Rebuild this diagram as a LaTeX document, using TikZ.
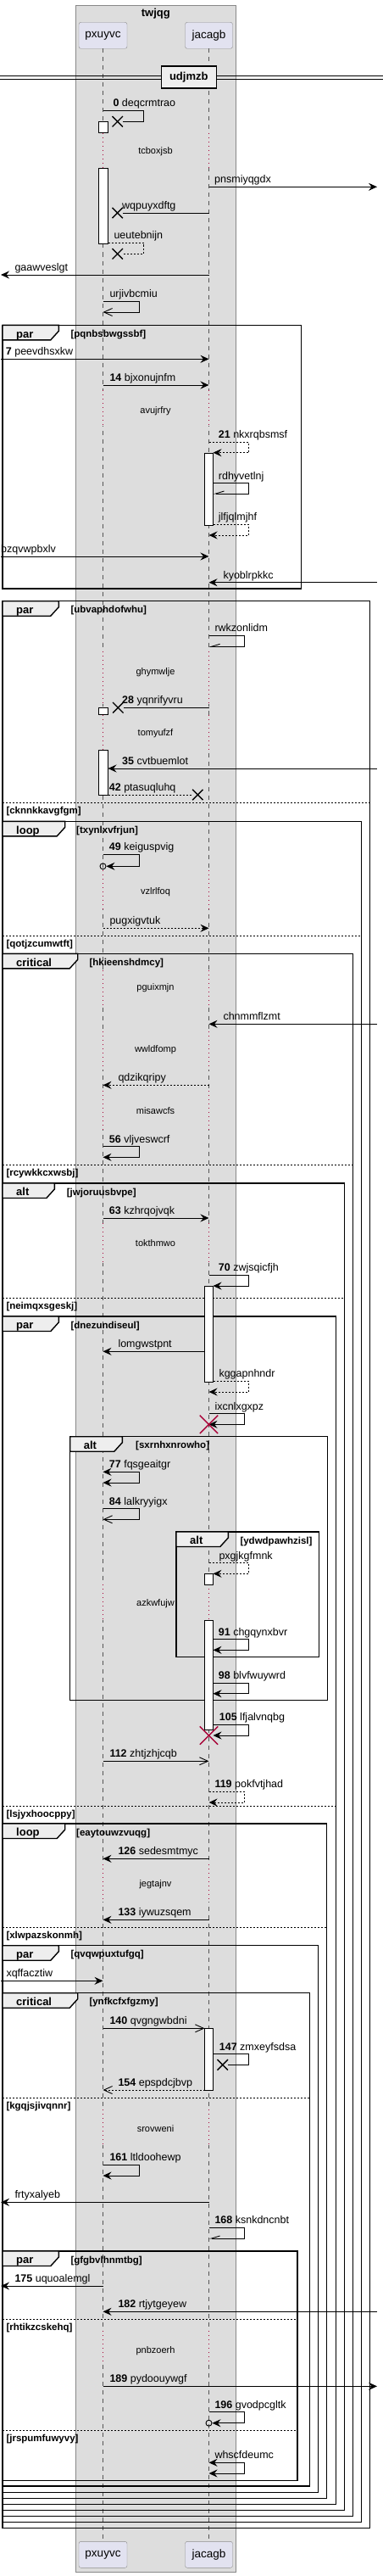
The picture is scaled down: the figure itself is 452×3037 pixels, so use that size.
\documentclass[tikz,border=0pt]{standalone}
\usepackage{fontspec}
\setmainfont{Liberation Sans}
\usepackage{xcolor}
\definecolor{ink}{HTML}{000000}
\definecolor{boxbg}{HTML}{DDDDDD}
\definecolor{boxfr}{HTML}{888888}
\definecolor{partbg}{HTML}{E2E2F0}
\definecolor{partfr}{HTML}{8C8C8C}
\definecolor{tabbg}{HTML}{EEEEEE}
\definecolor{delayred}{HTML}{A80036}
\definecolor{lifegrey}{HTML}{555555}
\usetikzlibrary{arrows.meta,shapes.misc}
\tikzset{>={Stealth[length=10pt,width=9pt,inset=3.5pt]},
  open/.style={-{Straight Barb[length=10pt,width=9pt]}},
  half/.style={-{Straight Barb[right,length=10pt,width=6pt]}},
  msg/.style={->,line width=0.9pt,ink},
  ret/.style={msg,dash pattern=on 2pt off 2pt},
  lbl/.style={font=\fontsize{12.5}{15}\selectfont,anchor=base west,inner sep=0pt},
  dly/.style={font=\fontsize{11}{13}\selectfont,inner sep=0pt},
  grd/.style={font=\fontsize{11.5}{13}\selectfont\bfseries,anchor=base west,inner sep=0pt},
  ftitle/.style={font=\fontsize{13}{15}\selectfont\bfseries,anchor=base west,inner sep=0pt},
  part/.style={draw=partfr,fill=partbg,rounded corners=2.5pt,minimum width=57pt,
    minimum height=31pt,font=\fontsize{13.5}{15}\selectfont,inner sep=0pt},
  life/.style={lifegrey,line width=0.6pt,dash pattern=on 5pt off 5pt},
  dots/.style={delayred,line width=0.8pt,dash pattern=on 1pt off 4pt},
  act/.style={draw=ink,fill=white,line width=0.8pt},
  frm/.style={draw=ink,line width=1.4pt},
  tabbox/.style={draw=ink,fill=tabbg,line width=1.4pt},
  divline/.style={ink,line width=0.7pt,dash pattern=on 2pt off 2pt},
  lostx/.style={draw=ink,cross out,minimum size=11pt,inner sep=0pt,line width=1.4pt},
  killx/.style={draw=delayred,cross out,minimum size=20pt,inner sep=0pt,line width=1.4pt},
  endo/.style={draw=ink,circle,minimum size=7pt,inner sep=0pt,line width=0.9pt}}

\begin{document}
\begin{tikzpicture}[x=1pt,y=-1pt]
  \useasboundingbox (0,0) rectangle (452,3037);
  \draw[draw=boxfr,fill=boxbg] (89.3,6) rectangle (278.3,3032);
  \node[ftitle,anchor=center] (grp) at (183.8,15.7) {twjqg};
  \node[part] (pxt) at (121.5,41.8) {pxuyvc};
  \node[part,minimum width=56pt] (jct) at (246.5,41.8) {jacagb};
  \node[part] (pxb) at (121.5,3011.8) {pxuyvc};
  \node[part,minimum width=56pt] (jcb) at (246.5,3011.8) {jacagb};
  \draw[life] (pxt) -- (pxb);
  \draw[life] (jct) -- (jcb);
  \coordinate (px) at (121.5,0); \coordinate (jc) at (246.5,0);
  \coordinate (pa) at (127.5,0); \coordinate (ja) at (251.5,0); \coordinate (jb) at (241.5,0);
  \coordinate (lf) at (1,0); \coordinate (rg) at (445,0);

  \draw[ink,line width=0.8pt] (0,89.7) -- (452,89.7) (0,93.7) -- (452,93.7);
  \node[draw=ink,line width=1.5pt,fill=tabbg,minimum width=65pt,minimum height=26pt,
    font=\fontsize{13}{15}\selectfont\bfseries] (udj) at (222.8,91.2) {udjmzb};

  \foreach \ya/\yb/\yt/\txt in {156.7/198/178.3/tcboxjsb,460/502/484.3/avujrfry,
      768/830/792.7/ghymwlje,842.7/884.3/864.3/tomyufzf,1026/1072/1051.7/vzlrlfoq,
      1144/1187/1165/pguixmjn,1216/1261/1237.7/wwldfomp,1286/1332/1309.3/misawcfs,
      1442/1489/1466/tokthmwo,1868/1910/1890.7/azkwfujw,2198/2242/2221.7/jegtajnv,
      2487/2529/2510/srovweni,2748/2785/2771.7/pnbzoerh}{
    \foreach \c in {px,jc}{
      \draw[boxbg,line width=2pt] (\c|-0,\ya) -- (\c|-0,\yb);
      \draw[dots] (\c|-0,\ya) -- (\c|-0,\yb);}
    \node[dly] (d\txt) at (183.5,\yt) {\txt};}

  \foreach \i/\xa/\ya/\xb/\yb/\w/\kind/\gx/\gd in {
      0/3/383.3/355.7/694/66.3/par/83.3/pqnbsbwgssbf,
      1/3/708.7/436.7/2980.3/66.3/par/83.3/ubvaphdofwhu,
      2/3/968.3/426.7/2973.3/73.7/loop/90/txynlxvfrjun,
      3/3/1124.3/416.7/2966.3/88.7/critical/105.3/hkieenshdmcy,
      4/3/1395/406.7/2959.3/61.3/alt/78.7/jwjoruusbvpe,
      5/3/1552/396.3/2952.7/66.3/par/83.3/dnezundiseul,
      6/82.7/1693.7/386.7/2004.3/61.6/alt/160/sxrnhxnrowho,
      7/208/1806/376.7/1953.3/61.3/alt/283.3/ydwdpawhzisl,
      8/3/2150/385.7/2945.3/73.7/loop/90/eaytouwzvuqg,
      9/3/2293.7/375.7/2938.3/66.3/par/83.3/qvqwpuxtufgq,
      10/3/2349.7/365.3/2931/88.7/critical/105.3/ynfkcfxfgzmy,
      11/3/2654/351/2924.3/66.3/par/83.3/gfgbvlhnmtbg}{
    \draw[frm] (\xa,\ya) rectangle (\xb,\yb);
    \draw[tabbox] (\xa,\ya) -- ++(\w,0) -- ++(0,7) -- ++(-9.5,10.5) -- (\xa,\ya+17.5) -- cycle;
    \node[ftitle] (fk\i) at (\xa+16,\ya+14.8) {\kind};
    \node[grd] (fg\i) at (\gx,\ya+14.2) {[\gd]};}

  \foreach \y/\xb/\gd in {946/436.7/cknnkkavgfgm,1103.3/426.7/qotjzcumwtft,
      1373.3/416.7/rcywkkcxwsbj,1530.3/406.7/neimqxsgeskj,2129/396.3/lsjyxhoocppy,
      2272.3/385.7/xlwpazskonmh,2473.3/365.3/kgqjsjivqnnr,2734.3/351/rhtikzcskehq,
      2865.3/351/jrspumfuwyvy}{
    \draw[divline] (3,\y) -- (\xb,\y);
    \node[grd] (v\gd) at (7.3,\y+13) {[\gd]};}

  \foreach \ya/\yb in {143.3/156.7,198/287.3,834.7/842.7,884.3/937}
    \draw[act] (116.5,\ya) rectangle (127.5,\yb);
  \foreach \ya/\yb in {534.3/619,1516/1629,1855.3/1868.3,1910/2039.3,2391.3/2464.3}
    \draw[act] (241.5,\ya) rectangle (251.5,\yb);

  \node[lostx] (x0) at (138.7,143.3) {};
  \draw[msg,-] (px|-0,130.3) -- (169.3,130.3) |- (x0);
  \node[lbl] (t0) at (133.3,125.8) {\textbf{0} deqcrmtrao};
  \draw[msg] (jc|-0,220.3) -- (rg|-0,220.3);
  \node[lbl] (t1) at (253,215.8) {pnsmiyqgdx};
  \node[lostx] (x1) at (138.7,251) {};
  \draw[msg,-] (jc|-0,251) -- (x1);
  \node[lbl] (t2) at (144,246.5) {wqpuyxdftg};
  \node[lostx] (x2) at (138.7,299.3) {};
  \draw[ret,-] (pa|-0,286.3) -- (169.3,286.3) |- (x2);
  \node[lbl] (t3) at (134.3,281.8) {ueutebnijn};
  \draw[msg] (jc|-0,324) -- (lf|-0,324);
  \node[lbl] (t4) at (17.3,319.5) {gaawveslgt};
  \draw[msg,open] (px|-0,355.3) -- (164.3,355.3) |- (px|-0,368);
  \node[lbl] (t5) at (129.3,350.8) {urjivbcmiu};
  \draw[msg] (lf|-0,423.3) -- (jc|-0,423.3);
  \node[lbl] (t6) at (6.7,418.8) {\textbf{7} peevdhsxkw};
  \draw[msg] (px|-0,454) -- (jc|-0,454);
  \node[lbl] (t7) at (129.3,449.5) {\textbf{14} bjxonujnfm};
  \draw[ret] (jc|-0,521.3) -- (293.3,521.3) |- (ja|-0,533.7);
  \node[lbl] (t8) at (257.7,516.8) {\textbf{21} nkxrqbsmsf};
  \draw[msg,half] (ja|-0,569.7) -- (293.3,569.7) |- (ja|-0,582);
  \node[lbl] (t9) at (257.7,565.2) {rdhyvetlnj};
  \draw[ret] (ja|-0,618.3) -- (293.3,618.3) |- (jc|-0,631);
  \node[lbl] (t10) at (257.7,613.8) {jlfjqlmjhf};
  \draw[msg] (lf|-0,656) -- (jc|-0,656);
  \node[lbl] (t11) at (1,651.5) {bzqvwpbxlv};
  \draw[msg] (rg|-0,686.7) -- (jc|-0,686.7);
  \node[lbl] (t12) at (263.3,682.2) {kyoblrpkkc};
  \draw[msg,half] (jc|-0,749) -- (288.3,749) |- (jc|-0,762.3);
  \node[lbl] (t13) at (253.3,744.5) {rwkzonlidm};
  \node[lostx] (x3) at (139.3,834.3) {};
  \draw[msg,-] (jc|-0,834.3) -- (x3);
  \node[lbl] (t14) at (144,829.8) {\textbf{28} yqnrifyvru};
  \draw[msg] (rg|-0,906) -- (pa|-0,906);
  \node[lbl] (t15) at (144,901.5) {\textbf{35} cvtbuemlot};
  \node[lostx] (x4) at (233.3,937) {};
  \draw[ret,-] (pa|-0,937) -- (x4);
  \node[lbl] (t16) at (128.7,932.5) {\textbf{42} ptasuqluhq};
  \node[endo] (o1) at (px|-0,1021.3) {};
  \draw[msg] (px|-0,1007.3) -- (164.3,1007.3) |- (o1);
  \node[lbl] (t17) at (128.7,1002.8) {\textbf{49} keiguspvig};
  \draw[ret] (px|-0,1094.3) -- (jc|-0,1094.3);
  \node[lbl] (t18) at (129.3,1089.8) {pugxigvtuk};
  \draw[msg] (rg|-0,1207.3) -- (jc|-0,1207.3);
  \node[lbl] (t19) at (263.3,1202.8) {chnmmflzmt};
  \draw[ret] (jc|-0,1279.3) -- (px|-0,1279.3);
  \node[lbl] (t20) at (139.3,1274.8) {qdzikqripy};
  \draw[msg] (px|-0,1351.7) -- (164.3,1351.7) |- (px|-0,1364.3);
  \node[lbl] (t21) at (128.7,1347.2) {\textbf{56} vljveswcrf};
  \draw[msg] (px|-0,1436) -- (jc|-0,1436);
  \node[lbl] (t22) at (128.7,1431.5) {\textbf{63} kzhrqojvqk};
  \draw[msg] (jc|-0,1503.3) -- (293.3,1503.3) |- (ja|-0,1516);
  \node[lbl] (t23) at (257.7,1498.8) {\textbf{70} zwjsqicfjh};
  \draw[msg] (jb|-0,1593.3) -- (px|-0,1593.3);
  \node[lbl] (t24) at (139.3,1588.8) {lomgwstpnt};
  \draw[ret] (ja|-0,1628.3) -- (293.3,1628.3) |- (jc|-0,1641);
  \node[lbl] (t25) at (258.3,1623.8) {kggapnhndr};
  \draw[msg] (jc|-0,1666.7) -- (288.3,1666.7) |- (jc|-0,1679.3);
  \node[killx] (k1) at (jc|-0,1679.3) {};
  \node[lbl] (t26) at (253.3,1662.2) {ixcnlxgxpz};
  \draw[msg,<->] (px|-0,1735.3) -- (164.3,1735.3) |- (px|-0,1748);
  \node[lbl] (t27) at (128.7,1730.8) {\textbf{77} fqsgeaitgr};
  \draw[msg,open] (px|-0,1778.7) -- (164.3,1778.7) |- (px|-0,1791.3);
  \node[lbl] (t28) at (128.7,1774.2) {\textbf{84} lalkryyigx};
  \draw[ret] (jc|-0,1842.7) -- (293.3,1842.7) |- (ja|-0,1855.3);
  \node[lbl] (t29) at (258.3,1838.2) {pxgjkgfmnk};
  \draw[msg] (ja|-0,1932.7) -- (293.3,1932.7) |- (ja|-0,1945.3);
  \node[lbl] (t30) at (257.7,1928.2) {\textbf{91} chgqynxbvr};
  \draw[msg] (ja|-0,1984) -- (293.3,1984) |- (ja|-0,1996.7);
  \node[lbl] (t31) at (257.7,1979.5) {\textbf{98} blvfwuywrd};
  \draw[msg] (ja|-0,2033.3) -- (293.3,2033.3) |- (ja|-0,2046);
  \node[killx] (k2) at (jc|-0,2046) {};
  \node[lbl] (t32) at (258.7,2028.8) {\textbf{105} lfjalvnqbg};
  \draw[msg,open] (px|-0,2076.3) -- (jc|-0,2076.3);
  \node[lbl] (t33) at (129.3,2071.8) {\textbf{112} zhtjzhjcqb};
  \draw[ret] (jc|-0,2112.3) -- (288.3,2112.3) |- (jc|-0,2125);
  \node[lbl] (t34) at (253.3,2107.8) {\textbf{119} pokfvtjhad};
  \draw[msg] (jc|-0,2191.3) -- (px|-0,2191.3);
  \node[lbl] (t35) at (139.3,2186.8) {\textbf{126} sedesmtmyc};
  \draw[msg] (jc|-0,2263.3) -- (px|-0,2263.3);
  \node[lbl] (t36) at (139.3,2258.8) {\textbf{133} iywuzsqem};
  \draw[msg] (lf|-0,2335.3) -- (px|-0,2335.3);
  \node[lbl] (t37) at (7.3,2330.8) {xqffacztiw};
  \draw[msg,open] (px|-0,2391.3) -- (jb|-0,2391.3);
  \node[lbl] (t38) at (129.3,2386.8) {\textbf{140} qvgngwbdni};
  \node[lostx] (x5) at (262.7,2434.3) {};
  \draw[msg,-] (ja|-0,2421.7) -- (293.3,2421.7) |- (x5);
  \node[lbl] (t39) at (258.7,2417.2) {\textbf{147} zmxeyfsdsa};
  \draw[ret,open] (jb|-0,2464) -- (px|-0,2464);
  \node[lbl] (t40) at (139.3,2459.5) {\textbf{154} epspdcjbvp};
  \draw[msg] (px|-0,2552.3) -- (164.3,2552.3) |- (px|-0,2565);
  \node[lbl] (t41) at (129.3,2547.8) {\textbf{161} ltldoohewp};
  \draw[msg] (jc|-0,2596.3) -- (lf|-0,2596.3);
  \node[lbl] (t42) at (17.3,2591.8) {frtyxalyeb};
  \draw[msg,half] (jc|-0,2626.3) -- (288.3,2626.3) |- (jc|-0,2639);
  \node[lbl] (t43) at (253.3,2621.8) {\textbf{168} ksnkdncnbt};
  \draw[msg] (px|-0,2695) -- (lf|-0,2695);
  \node[lbl] (t44) at (17.3,2690.5) {\textbf{175} uquoalemgl};
  \draw[msg] (rg|-0,2725.3) -- (px|-0,2725.3);
  \node[lbl] (t45) at (139.3,2720.8) {\textbf{182} rtjytgeyew};
  \draw[msg] (px|-0,2813.3) -- (rg|-0,2813.3);
  \node[lbl] (t46) at (129.3,2808.8) {\textbf{189} pydoouywgf};
  \node[endo] (o2) at (jc|-0,2856.7) {};
  \draw[msg] (jc|-0,2843.7) -- (288.3,2843.7) |- (o2);
  \node[lbl] (t47) at (253.3,2839.2) {\textbf{196} gvodpcgltk};
  \draw[msg,<->] (jc|-0,2903.3) -- (288.3,2903.3) |- (jc|-0,2916);
  \node[lbl] (t48) at (253.3,2898.8) {whscfdeumc};
\end{tikzpicture}
\end{document}
